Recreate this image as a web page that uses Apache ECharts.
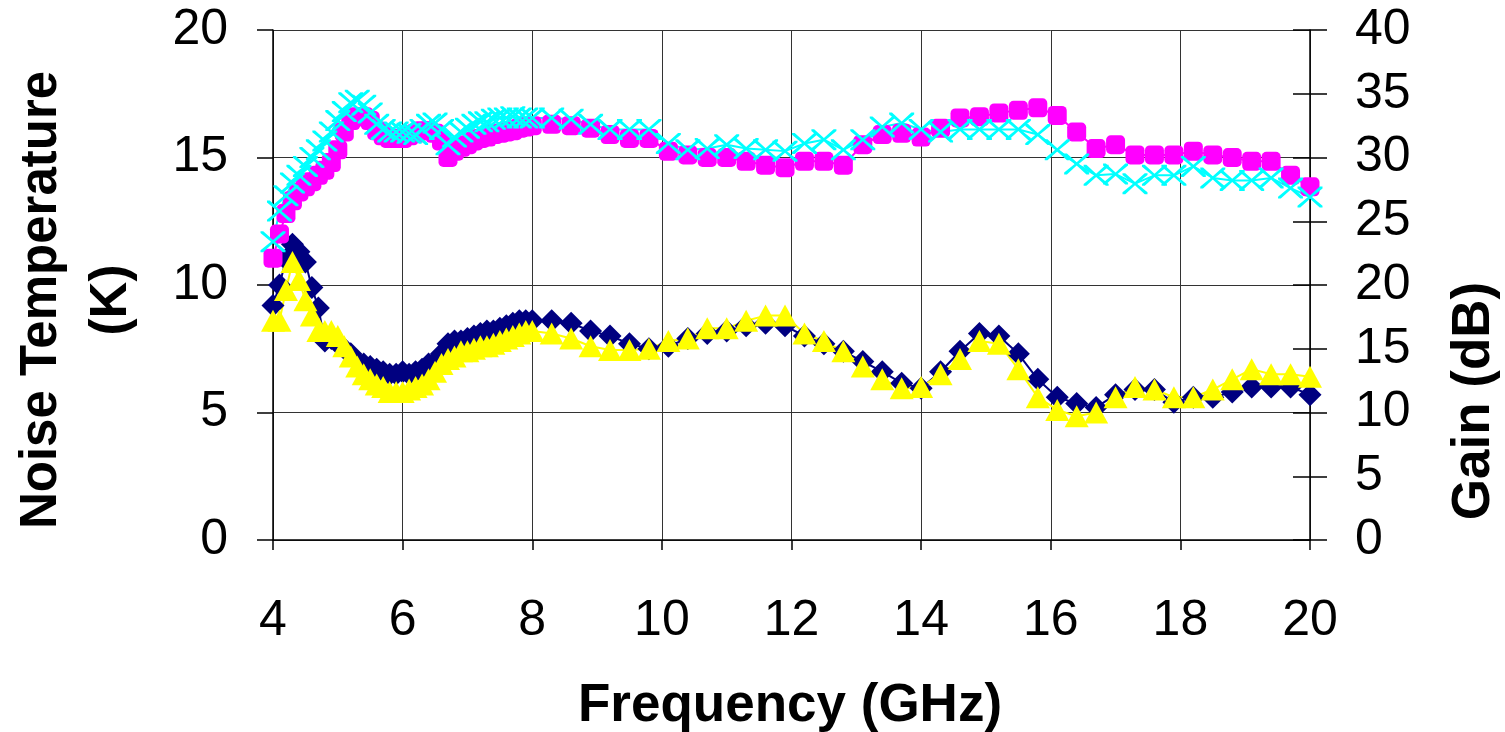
<!DOCTYPE html>
<html>
<head>
<meta charset="utf-8">
<title>Noise Temperature and Gain vs Frequency</title>
<script src="https://cdn.jsdelivr.net/npm/echarts@6/dist/echarts.min.js"></script>
<style>
  html, body { margin: 0; padding: 0; background: #ffffff; }
  #chart { width: 1505px; height: 732px; }
</style>
</head>
<body>
<div id="chart"></div>
<script>
// Frequency points (GHz): fine steps up to 8 GHz, coarser above
const frequency = [
  4.0, 4.1, 4.2, 4.3, 4.4, 4.5, 4.6, 4.7, 4.8, 4.9,
  5.0, 5.1, 5.2, 5.3, 5.4, 5.5, 5.6, 5.7, 5.8, 5.9,
  6.0, 6.1, 6.2, 6.3, 6.4, 6.5, 6.6, 6.7, 6.8, 6.9,
  7.0, 7.1, 7.2, 7.3, 7.4, 7.5, 7.6, 7.7, 7.8, 7.9,
  8.0, 8.3, 8.6, 8.9, 9.2, 9.5, 9.8, 10.1, 10.4, 10.7,
  11.0, 11.3, 11.6, 11.9, 12.2, 12.5, 12.8, 13.1, 13.4, 13.7,
  14.0, 14.3, 14.6, 14.9, 15.2, 15.5, 15.8, 16.1, 16.4, 16.7,
  17.0, 17.3, 17.6, 17.9, 18.2, 18.5, 18.8, 19.1, 19.4, 19.7,
  20.0
];

// Noise temperature (K), first amplifier (navy diamonds)
const noiseA = [
  9.2, 10.0, 11.0, 11.6, 11.3, 10.9, 9.9, 9.1, 7.8, 7.9,
  7.7, 7.5, 7.3, 7.0, 6.9, 6.8, 6.7, 6.6, 6.5, 6.5,
  6.6, 6.5, 6.6, 6.7, 6.9, 7.0, 7.3, 7.7, 7.8, 7.8,
  7.9, 8.0, 8.1, 8.2, 8.2, 8.3, 8.4, 8.5, 8.6, 8.6,
  8.6, 8.6, 8.5, 8.2, 8.0, 7.7, 7.5, 7.6, 7.9, 8.1,
  8.2, 8.4, 8.5, 8.4, 8.0, 7.7, 7.4, 7.0, 6.6, 6.15,
  5.95, 6.6, 7.4, 8.1, 8.0, 7.3, 6.3, 5.6, 5.35, 5.2,
  5.7, 5.9, 5.9, 5.4, 5.6, 5.6, 5.8, 6.0, 6.0, 6.0,
  5.7
];

// Noise temperature (K), second amplifier (yellow triangles)
const noiseB = [
  8.6, 8.6, 9.8, 10.9, 10.2, 9.4, 8.8, 8.2, 8.2, 8.2,
  8.0, 7.6, 7.2, 6.8, 6.5, 6.3, 6.1, 6.0, 5.8, 5.8,
  5.8, 5.9, 6.0, 6.1, 6.3, 6.6, 6.9, 7.1, 7.2, 7.4,
  7.4, 7.5, 7.6, 7.6, 7.7, 7.8, 7.9, 8.0, 8.1, 8.2,
  8.2, 8.1, 7.9, 7.6, 7.45, 7.45, 7.5, 7.8, 7.9, 8.3,
  8.3, 8.6, 8.8, 8.8, 8.1, 7.8, 7.4, 6.8, 6.3, 5.95,
  6.0, 6.5, 7.1, 7.8, 7.7, 6.7, 5.6, 5.1, 4.85, 5.0,
  5.6, 6.0, 5.9, 5.6, 5.6, 5.9, 6.3, 6.7, 6.5, 6.5,
  6.4
];

// Gain (dB), first amplifier (magenta squares)
const gainA = [
  22.1, 24.0, 25.6, 26.6, 27.3, 27.7, 28.1, 28.6, 29.0, 29.6,
  30.6, 32.0, 32.9, 33.2, 33.2, 32.9, 32.1, 31.7, 31.5, 31.5,
  31.5, 31.7, 31.9, 32.1, 32.1, 31.9, 31.3, 30.0, 30.5, 30.8,
  31.0, 31.3, 31.5, 31.6, 31.8, 31.9, 32.0, 32.1, 32.3, 32.4,
  32.5, 32.6, 32.5, 32.3, 31.8, 31.5, 31.5, 30.5, 30.2, 30.0,
  30.0, 29.7, 29.4, 29.2, 29.7, 29.7, 29.4, 31.0, 31.8, 31.9,
  31.6, 32.3, 33.1, 33.2, 33.5, 33.7, 33.9, 33.3, 32.0, 30.7,
  31.0, 30.2, 30.2, 30.2, 30.5, 30.2, 30.0, 29.7, 29.7, 28.6,
  27.7
];

// Gain (dB), second amplifier (cyan crosses)
const gainB = [
  23.4, 25.8, 27.0, 28.0, 28.6, 29.3, 30.0, 30.6, 31.3, 32.0,
  32.9, 33.6, 34.3, 34.5, 34.1, 33.5, 32.6, 32.2, 32.0, 32.0,
  32.0, 31.9, 31.8, 32.2, 32.6, 32.7, 32.2, 31.0, 31.6, 32.0,
  32.3, 32.6, 32.8, 32.8, 33.0, 33.1, 33.1, 33.2, 33.1, 33.1,
  33.1, 33.1, 33.0, 32.6, 32.2, 32.2, 32.2, 31.1, 30.6, 30.7,
  31.0, 30.7, 30.6, 30.5, 31.1, 31.4, 30.6, 31.4, 32.4, 32.7,
  32.2, 32.0, 32.2, 32.2, 32.2, 32.2, 31.8, 30.6, 29.5, 28.6,
  28.7, 27.95, 28.6, 28.6, 29.3, 28.4, 28.2, 28.2, 28.4, 27.6,
  26.9
];

// Axis ranges and tick steps
const freqRange = [4, 20, 2];
const noiseRange = [0, 20, 5];
const gainRange = [0, 40, 5];

const pairs = (ys) => frequency.map((f, i) => [f, ys[i]]);

// thin-armed "x" marker
const crossPath = 'path://M0,0 L2.2,0 L10,7.6 L17.8,0 L20,0 L20,1.6 L11.6,9 L20,16.4 L20,18 L17.8,18 L10,10.4 L2.2,18 L0,18 L0,16.4 L8.4,9 L0,1.6 Z';

const tickFont = { fontFamily: 'Liberation Sans, Arial, sans-serif', fontSize: 50, color: '#000' };
const gridLine = { show: true, lineStyle: { color: '#333', width: 1 } };
const axisLineBlack = { show: true, lineStyle: { color: '#000', width: 1.5 } };
const titleFont = 'bold 53px "Liberation Sans", Arial, sans-serif';

const chart = echarts.init(document.getElementById('chart'), null, { renderer: 'canvas' });

chart.setOption({
  backgroundColor: '#ffffff',
  animation: false,
  grid: { left: 273, right: 195, top: 30, bottom: 192, containLabel: false },
  xAxis: {
    type: 'value',
    min: freqRange[0], max: freqRange[1], interval: freqRange[2],
    axisLine: axisLineBlack,
    axisTick: { show: true, inside: false, length: 10, lineStyle: { color: '#000', width: 1.5 } },
    axisLabel: Object.assign({ margin: 56 }, tickFont),
    splitLine: gridLine
  },
  yAxis: [
    {
      type: 'value', position: 'left',
      min: noiseRange[0], max: noiseRange[1], interval: noiseRange[2],
      axisLine: axisLineBlack,
      axisTick: { show: true, inside: false, length: 16, lineStyle: { color: '#000', width: 1.5 } },
      axisLabel: Object.assign({ margin: 45 }, tickFont),
      splitLine: gridLine
    },
    {
      type: 'value', position: 'right',
      min: gainRange[0], max: gainRange[1], interval: gainRange[2],
      axisLine: axisLineBlack,
      axisTick: { show: true, inside: false, length: 17, lineStyle: { color: '#000', width: 1.5 } },
      axisLabel: Object.assign({ margin: 45, align: 'left' }, tickFont),
      splitLine: { show: false }
    },
    {
      // inner half of the crossing gain ticks
      type: 'value', position: 'right',
      min: gainRange[0], max: gainRange[1], interval: gainRange[2],
      axisLine: { show: false },
      axisTick: { show: true, inside: true, length: 17, lineStyle: { color: '#000', width: 1.5 } },
      axisLabel: { show: false },
      splitLine: { show: false }
    }
  ],
  graphic: [
    {
      type: 'text', x: 77, y: 300, rotation: Math.PI / 2,
      style: {
        text: 'Noise Temperature\n(K)',
        font: 'bold 51px "Liberation Sans", Arial, sans-serif',
        fill: '#000', align: 'center', verticalAlign: 'middle', lineHeight: 70
      }
    },
    {
      type: 'text', x: 1474, y: 401, rotation: Math.PI / 2,
      style: {
        text: 'Gain (dB)',
        font: titleFont,
        fill: '#000', align: 'center', verticalAlign: 'middle'
      }
    },
    {
      type: 'text', x: 790, y: 706,
      style: {
        text: 'Frequency (GHz)',
        font: titleFont,
        fill: '#000', align: 'center', verticalAlign: 'middle'
      }
    }
  ],
  series: [
    {
      name: 'Noise A', type: 'line', yAxisIndex: 0, data: pairs(noiseA),
      symbol: 'diamond', symbolSize: 23,
      itemStyle: { color: '#000080' },
      lineStyle: { color: '#000080', width: 2 }
    },
    {
      name: 'Noise B', type: 'line', yAxisIndex: 0, data: pairs(noiseB),
      symbol: 'triangle', symbolSize: [24, 22],
      itemStyle: { color: '#ffff00' },
      lineStyle: { color: '#ffff00', width: 2 }
    },
    {
      name: 'Gain A', type: 'line', yAxisIndex: 1, data: pairs(gainA),
      symbol: 'roundRect', symbolSize: 19,
      itemStyle: { color: '#ff00ff' },
      lineStyle: { color: '#ff00ff', width: 2 }
    },
    {
      name: 'Gain B', type: 'line', yAxisIndex: 1, data: pairs(gainB),
      symbol: crossPath, symbolSize: [25, 21], symbolKeepAspect: false,
      itemStyle: { color: '#00ffff' },
      lineStyle: { color: '#00ffff', width: 2 }
    }
  ]
});
</script>
</body>
</html>
